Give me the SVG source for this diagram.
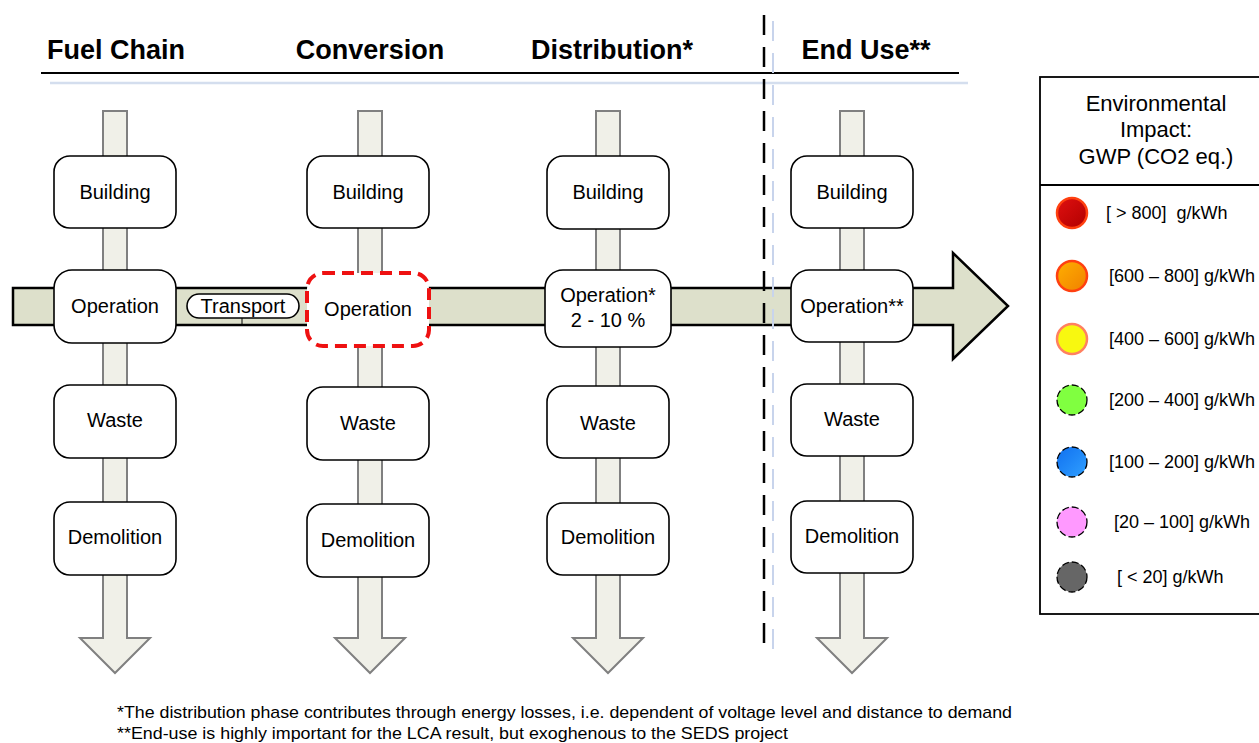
<svg xmlns="http://www.w3.org/2000/svg" width="1259" height="743" viewBox="0 0 1259 743">
  <style>
    .hdr { font-family: "Liberation Sans", Arial, sans-serif; font-weight: bold; font-size: 27px; fill: #000; text-anchor: middle; }
    .lbl { font-family: "Liberation Sans", Arial, sans-serif; font-size: 20px; fill: #000; text-anchor: middle; }
    .ttl { font-family: "Liberation Sans", Arial, sans-serif; font-size: 22px; fill: #000; text-anchor: middle; }
    .leg { font-family: "Liberation Sans", Arial, sans-serif; font-size: 18px; fill: #000; white-space: pre; }
    .note { font-family: "Liberation Sans", Arial, sans-serif; font-size: 17px; fill: #000; }
    .box { fill: #fff; stroke: #000; stroke-width: 1.6; }
    .flow { fill: #f0f0e8; stroke: #808080; stroke-width: 2; }
    .main { fill: #dde0cb; stroke: #000; stroke-width: 2.5; }
  </style>
  <defs>
    <!-- vertical life-cycle arrow, centred on x=0 -->
    <path id="varrow" d="M-12,111 H12 V638 H35 L0,673 L-35,638 H-12 Z"/>
    <linearGradient id="gRed" x1="0" y1="0" x2="1" y2="1"><stop offset="0" stop-color="#e01010"/><stop offset="1" stop-color="#b00000"/></linearGradient>
    <linearGradient id="gOrange" x1="0" y1="0" x2="1" y2="1"><stop offset="0" stop-color="#ffb000"/><stop offset="1" stop-color="#f08000"/></linearGradient>
    <linearGradient id="gBlue" x1="0" y1="0" x2="1" y2="1"><stop offset="0" stop-color="#1070f0"/><stop offset="1" stop-color="#30a0ff"/></linearGradient>
  </defs>

  <!-- phase headers -->
  <g id="headers">
    <text class="hdr" x="116" y="59">Fuel Chain</text>
    <text class="hdr" x="370" y="59">Conversion</text>
    <text class="hdr" x="612" y="59">Distribution*</text>
    <text class="hdr" x="866" y="59">End Use**</text>
    <line x1="41" y1="73" x2="959" y2="73" stroke="#000" stroke-width="2"/>
    <line x1="50" y1="83" x2="968" y2="83" stroke="#d4deee" stroke-width="2.5"/>
  </g>

  <!-- flow arrows -->
  <g id="connectors">
    <use href="#varrow" x="115" class="flow"/>
    <use href="#varrow" x="370" class="flow"/>
    <use href="#varrow" x="608" class="flow"/>
    <use href="#varrow" x="852" class="flow"/>
    <path class="main" d="M13,288 H953 V253 L1008,306 L953,359 V325 H13 Z"/>
    <line x1="242" y1="318" x2="242" y2="325" stroke="#000" stroke-width="1"/>
  </g>

  <!-- boundary of system -->
  <g id="boundary">
    <line x1="764" y1="15" x2="764" y2="646" stroke="#000" stroke-width="2.5" stroke-dasharray="20,12"/>
    <line x1="773" y1="15" x2="773" y2="656" stroke="#c8d4ec" stroke-width="2" stroke-dasharray="20,12" stroke-dashoffset="-6"/>
  </g>

  <!-- Fuel Chain column -->
  <g id="fuel-building"><rect class="box" x="54" y="156" width="122" height="72" rx="16"/><text class="lbl" x="115" y="199">Building</text></g>
  <g id="fuel-operation"><rect class="box" x="54" y="270" width="122" height="73" rx="18"/><text class="lbl" x="115" y="313">Operation</text></g>
  <g id="fuel-waste"><rect class="box" x="54" y="385" width="122" height="73" rx="16"/><text class="lbl" x="115" y="427">Waste</text></g>
  <g id="fuel-demolition"><rect class="box" x="54" y="502" width="122" height="73" rx="16"/><text class="lbl" x="115" y="544">Demolition</text></g>
  <g id="transport"><rect class="box" x="187" y="294" width="112" height="24" rx="12"/><text class="lbl" x="243" y="313">Transport</text></g>

  <!-- Conversion column -->
  <g id="conv-building"><rect class="box" x="307" y="156" width="122" height="72" rx="16"/><text class="lbl" x="368" y="199">Building</text></g>
  <g id="conv-operation"><rect x="307" y="273" width="122" height="73" rx="16" fill="#fff" stroke="#ee1111" stroke-width="4" stroke-dasharray="12,7"/><text class="lbl" x="368" y="316">Operation</text></g>
  <g id="conv-waste"><rect class="box" x="307" y="387" width="122" height="73" rx="16"/><text class="lbl" x="368" y="430">Waste</text></g>
  <g id="conv-demolition"><rect class="box" x="307" y="504" width="122" height="73" rx="16"/><text class="lbl" x="368" y="547">Demolition</text></g>

  <!-- Distribution column -->
  <g id="dist-building"><rect class="box" x="547" y="156" width="122" height="73" rx="16"/><text class="lbl" x="608" y="199">Building</text></g>
  <g id="dist-operation"><rect class="box" x="545" y="270" width="126" height="77" rx="18"/><text class="lbl" x="608" y="302">Operation*</text><text class="lbl" x="608" y="327">2 - 10 %</text></g>
  <g id="dist-waste"><rect class="box" x="547" y="386" width="122" height="72" rx="16"/><text class="lbl" x="608" y="430">Waste</text></g>
  <g id="dist-demolition"><rect class="box" x="547" y="503" width="122" height="72" rx="16"/><text class="lbl" x="608" y="544">Demolition</text></g>

  <!-- End Use column -->
  <g id="end-building"><rect class="box" x="791" y="156" width="122" height="72" rx="16"/><text class="lbl" x="852" y="199">Building</text></g>
  <g id="end-operation"><rect class="box" x="791" y="270" width="122" height="72" rx="18"/><text class="lbl" x="852" y="313">Operation**</text></g>
  <g id="end-waste"><rect class="box" x="791" y="384" width="122" height="72" rx="16"/><text class="lbl" x="852" y="426">Waste</text></g>
  <g id="end-demolition"><rect class="box" x="791" y="501" width="122" height="72" rx="16"/><text class="lbl" x="852" y="543">Demolition</text></g>

  <!-- legend -->
  <g id="legend">
    <rect x="1040" y="77" width="225" height="537" fill="#fff" stroke="#000" stroke-width="1.8"/>
    <line x1="1040" y1="185" x2="1265" y2="185" stroke="#000" stroke-width="1.8"/>
    <text class="ttl" x="1156" y="111">Environmental</text>
    <text class="ttl" x="1156" y="137">Impact:</text>
    <text class="ttl" x="1156" y="164">GWP (CO2 eq.)</text>

    <circle cx="1072" cy="213" r="15" fill="url(#gRed)" stroke="#ff4010" stroke-width="2.5"/>
    <text class="leg" x="1106" y="219" xml:space="preserve">[ &gt; 800]  g/kWh</text>
    <circle cx="1072" cy="276" r="15" fill="url(#gOrange)" stroke="#ff4010" stroke-width="2.5"/>
    <text class="leg" x="1109" y="282">[600 – 800] g/kWh</text>
    <circle cx="1072" cy="339" r="15" fill="#f8f810" stroke="#ff8060" stroke-width="2.5"/>
    <text class="leg" x="1109" y="345">[400 – 600] g/kWh</text>
    <circle cx="1072" cy="400" r="15" fill="#80ff40" stroke="#000" stroke-width="1.3" stroke-dasharray="7,3"/>
    <text class="leg" x="1109" y="406">[200 – 400] g/kWh</text>
    <circle cx="1072" cy="462" r="15" fill="url(#gBlue)" stroke="#000" stroke-width="1.3" stroke-dasharray="7,3"/>
    <text class="leg" x="1109" y="468">[100 – 200] g/kWh</text>
    <circle cx="1072" cy="522" r="15" fill="#ff99ff" stroke="#000" stroke-width="1.3" stroke-dasharray="7,3"/>
    <text class="leg" x="1114" y="528">[20 – 100] g/kWh</text>
    <circle cx="1072" cy="577" r="15" fill="#666" stroke="#000" stroke-width="1.3" stroke-dasharray="7,3"/>
    <text class="leg" x="1117" y="583">[ &lt; 20] g/kWh</text>
  </g>

  <!-- footnotes -->
  <g id="notes">
    <text class="note" x="117" y="718" textLength="895" lengthAdjust="spacingAndGlyphs">*The distribution phase contributes through energy losses, i.e. dependent of voltage level and distance to demand</text>
    <text class="note" x="117" y="739" textLength="671" lengthAdjust="spacingAndGlyphs">**End-use is highly important for the LCA result, but exoghenous to the SEDS project</text>
  </g>
</svg>
